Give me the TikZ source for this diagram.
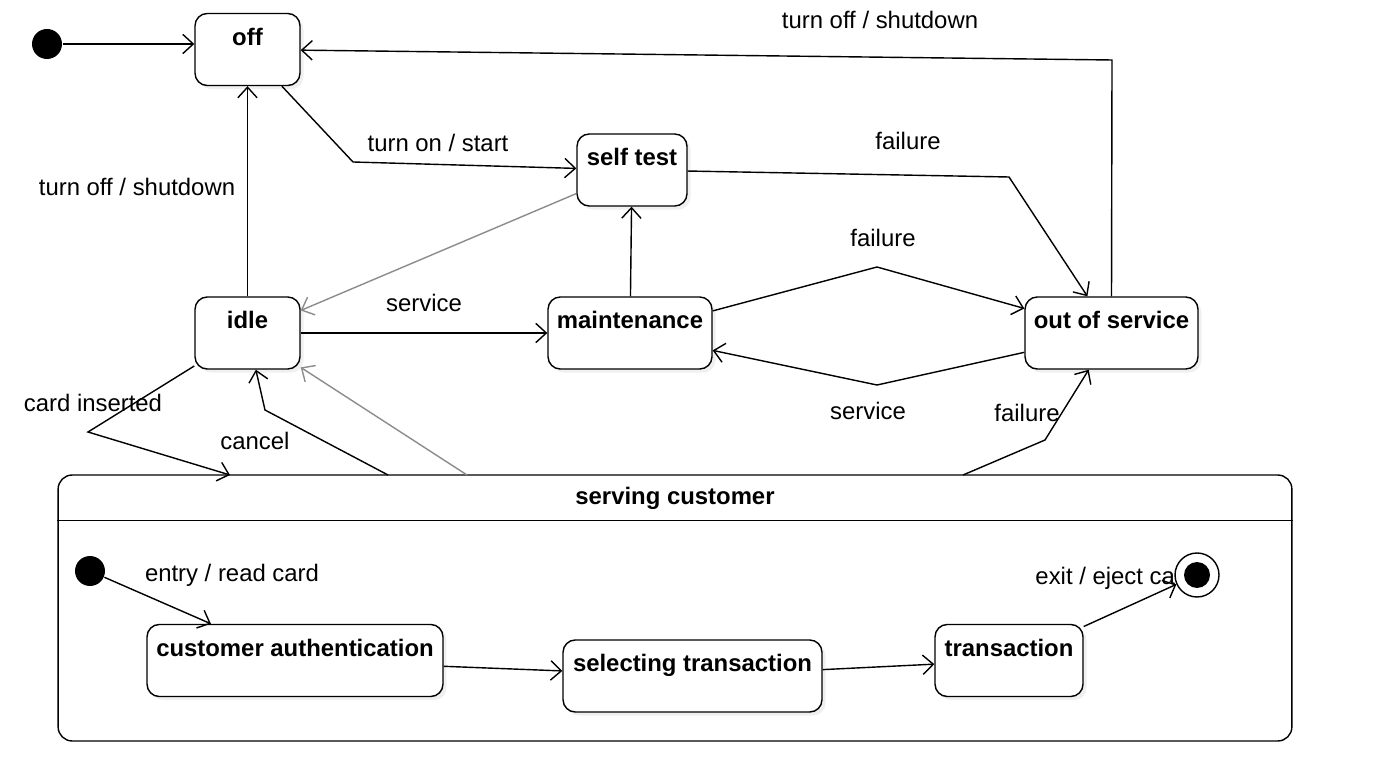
\documentclass[tikz,border=0pt]{standalone}
\usepackage{fontspec}
\setmainfont{Liberation Sans}
\usetikzlibrary{arrows.meta,shadows}

\begin{document}
\begin{tikzpicture}[x=0.02cm,y=-0.02cm,line width=0.8pt,
  >={Straight Barb[length=6pt,width=11pt]},
  font=\fontsize{13.6}{16}\selectfont,
  state/.style={draw,fill=white,rounded corners=7pt,inner xsep=2pt,inner ysep=0pt,
    text height=18pt,text depth=23pt,font=\fontsize{13.6}{16}\selectfont\bfseries,
    drop shadow={opacity=0.12,shadow xshift=2pt,shadow yshift=-2pt}},
  dot/.style={circle,fill=black,minimum size=0.6cm,inner sep=0pt},
  lbl/.style={inner sep=1pt},
  faint/.style={draw=black!45}]
\useasboundingbox (0,0) rectangle (1385,776);

\node [dot] (init) at (47,44) {};
\node [state,minimum width=2.1cm] (off) at (247.5,49.5) {off};
\node [state,minimum width=2.2cm] (selftest) at (632,170) {self test};
\node [state,minimum width=2.1cm] (idle) at (247.5,333) {idle};
\node [state,minimum width=3.28cm] (maint) at (630,333) {maintenance};
\node [state,minimum width=3.46cm] (oos) at (1111.5,333) {out of service};

% composite state
\node [draw,fill=white,rounded corners=8pt,minimum width=24.68cm,minimum height=5.32cm] (serve) at (675,608) {};
\draw ([yshift=-0.92cm]serve.north west) -- ([yshift=-0.92cm]serve.north east);
\node [font=\fontsize{13.6}{16}\selectfont\bfseries] (servetitle) at (675,498) {serving customer};
\node [dot] (sinit) at (90,571) {};
\node [state,minimum width=5.92cm] (auth) at (295,660.5) {customer authentication};
\node [state,minimum width=5.18cm] (select) at (692.5,676) {selecting transaction};
\node [state,minimum width=2.96cm] (trans) at (1009,660.5) {transaction};

% bends and ends on the composite border
\coordinate (b1) at (353,162);
\coordinate (b2) at (1009,177);
\coordinate (b3) at (877,267);
\coordinate (b4) at (877,385);
\coordinate (b5) at (88,432);
\coordinate (b6) at (265,410);
\coordinate (b7) at (1045,440);
\coordinate (b8) at (1112,60);
\coordinate (c1) at (230,475);
\coordinate (c2) at (388,475);
\coordinate (c3) at (467,475);
\coordinate (c4) at (963,475);

\draw [->] (init) edge (init -| off.west);
\draw [->] (off) -- (b1) -- (selftest);
\draw [->] (idle) edge (off);
\draw [->] (oos.north) -- (b8) -- (off);
\draw [->] (selftest) -- (b2) -- (oos);
\draw [->,faint] (selftest) edge (idle);
\draw [->] (idle) edge (maint);
\draw [->] (maint) edge (selftest);
\draw [->] (maint) -- (b3) -- (oos);
\draw [->] (oos) -- (b4) -- (maint);
\draw [->] (c4) -- (b7) -- (oos);
\draw [->] (idle) -- (b5) -- (c1);
\draw [->] (c2) -- (b6) -- (idle);
\draw [->,faint] (c3) -- (idle);
\draw [->] (sinit) edge (auth);
\draw [->] (auth) edge (select);
\draw [->] (select) edge (trans);

\node [lbl] (l1) at (438,143) {turn on / start};
\node [lbl] (l2) at (137,187) {turn off / shutdown};
\node [lbl] (l3) at (880,20) {turn off / shutdown};
\node [lbl] (l4) at (908,141) {failure};
\node [lbl] (l5) at (883,238) {failure};
\node [lbl] (l6) at (424,303) {service};
\node [lbl] (l7) at (868,411) {service};
\node [lbl] (l8) at (1027,413) {failure};
\node [lbl] (l9) at (93,403) {card inserted};
\node [lbl] (l10) at (255,441) {cancel};
\node [lbl] (l11) at (232,575) {entry / read card};
\node [lbl,anchor=west] (l12) at (1033,578) {exit / eject card};

% final state on top of its label
\node [circle,draw,fill=white,minimum size=0.88cm,inner sep=0pt] (final) at (1197,575) {};
\node [dot,minimum size=0.52cm] (finaldot) at (final) {};
\draw [->] (trans) edge (final);
\end{tikzpicture}
\end{document}
